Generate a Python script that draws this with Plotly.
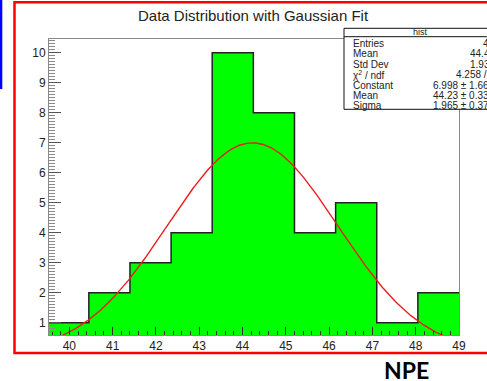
import numpy as np
import plotly.graph_objects as go

# Histogram: 10 bins of width 0.95 from 39.5 to 49.0
bin_edges = [39.5, 40.45, 41.4, 42.35, 43.3, 44.25, 45.2, 46.15, 47.1, 48.05, 49.0]
counts = [1, 2, 3, 4, 10, 8, 4, 5, 1, 2]

# Gaussian fit parameters
fit_constant = 6.998
fit_mean = 44.23
fit_sigma = 1.965

# Stats box rows
stat_labels = ["Entries", "Mean", "Std Dev", "χ<sup>2</sup> / ndf", "Constant", "Mean", "Sigma"]
stat_values = ["40", "44.42", "1.934", "4.258 / 7", "6.998 ± 1.664", "44.23 ± 0.333", "1.965 ± 0.370"]

x_range = [39.53, 49.0]
y_range = [0.59, 10.46]

# pixel geometry of the plotting area
FIG_W, FIG_H = 487, 381
L, R, T, B = 49, 459, 39, 335
PW, PH = R - L, B - T


def px(xp):
    return (xp - L) / PW


def py(yp):
    return (B - yp) / PH


fig = go.Figure()

# filled histogram drawn as a step curve (no seams between bins)
step_x = bin_edges
step_y = counts + [counts[-1]]
fig.add_trace(go.Scatter(
    x=step_x, y=step_y, mode="lines", line_shape="hv",
    fill="tozeroy", fillcolor="#00ff00",
    line=dict(color="#222222", width=1.5),
    hoverinfo="skip", showlegend=False,
))

# fitted Gaussian
gx = np.linspace(bin_edges[0], bin_edges[-1], 400)
gy = fit_constant * np.exp(-0.5 * ((gx - fit_mean) / fit_sigma) ** 2)
fig.add_trace(go.Scatter(
    x=gx, y=gy, mode="lines",
    line=dict(color="#ee1c1c", width=1.4),
    hoverinfo="skip", showlegend=False,
))

font_main = "Liberation Sans, Arial, sans-serif"

shapes = []
annotations = []

# red surrounding frame
shapes.append(dict(type="rect", xref="paper", yref="paper",
                   x0=px(14.5), x1=px(500), y0=py(353), y1=py(2.2),
                   line=dict(color="#ff0000", width=2.5), fillcolor="rgba(0,0,0,0)",
                   layer="above"))
# blue bar at the left edge
shapes.append(dict(type="rect", xref="paper", yref="paper",
                   x0=px(-2), x1=px(2.3), y0=py(89), y1=py(-2),
                   line=dict(width=0), fillcolor="#0000ff", layer="above"))

# stats box
box_x0, box_y0, box_y1 = 344, 28.3, 109.3
shapes.append(dict(type="rect", xref="paper", yref="paper",
                   x0=px(box_x0), x1=px(520), y0=py(box_y1), y1=py(box_y0),
                   line=dict(color="#111111", width=1), fillcolor="white", layer="above"))
shapes.append(dict(type="line", xref="paper", yref="paper",
                   x0=px(box_x0), x1=px(520), y0=py(36.7), y1=py(36.7),
                   line=dict(color="#111111", width=1), layer="above"))

annotations.append(dict(xref="paper", yref="paper", x=px(420), y=py(32.3),
                        text="hist", showarrow=False, xanchor="center", yanchor="middle",
                        font=dict(family=font_main, size=9, color="#222")))
row_y0, row_dy = 43.3, 10.45
for i, (lab, val) in enumerate(zip(stat_labels, stat_values)):
    yy = py(row_y0 + i * row_dy)
    annotations.append(dict(xref="paper", yref="paper", x=px(350.5), y=yy,
                            text=lab, showarrow=False, xanchor="left", yanchor="middle",
                            font=dict(family=font_main, size=10, color="#222")))
    annotations.append(dict(xref="paper", yref="paper", x=px(497), y=yy,
                            text=val, showarrow=False, xanchor="right", yanchor="middle",
                            font=dict(family=font_main, size=10, color="#222")))

# title
annotations.append(dict(xref="paper", yref="paper", x=px(253), y=py(15.5),
                        text="Data Distribution with Gaussian Fit", showarrow=False,
                        xanchor="center", yanchor="middle",
                        font=dict(family=font_main, size=15, color="#222")))
# axis caption
annotations.append(dict(xref="paper", yref="paper", x=px(406), y=py(370),
                        text="<b>NPE</b>", showarrow=False,
                        xanchor="center", yanchor="middle",
                        font=dict(family="Lato, Open Sans, sans-serif", size=23, color="#000")))

fig.update_layout(
    width=FIG_W, height=FIG_H,
    margin=dict(l=L, r=FIG_W - R, t=T, b=FIG_H - B, pad=0),
    paper_bgcolor="white", plot_bgcolor="white",
    shapes=shapes, annotations=annotations,
    showlegend=False,
)

fig.update_xaxes(
    range=x_range, showgrid=False, zeroline=False,
    showline=True, mirror=True, linecolor="#8a8a8a", linewidth=1,
    ticks="inside", ticklen=8, tickcolor="#333", tickwidth=1,
    tick0=40, dtick=1,
    minor=dict(ticks="inside", ticklen=4, dtick=0.2, tick0=40, tickcolor="#333", showgrid=False),
    tickfont=dict(family=font_main, size=12, color="#222"),
)
fig.update_yaxes(
    range=y_range, showgrid=False, zeroline=False,
    showline=True, mirror=True, linecolor="#8a8a8a", linewidth=1,
    ticks="inside", ticklen=12, tickcolor="#555", tickwidth=1,
    tick0=0, dtick=1,
    minor=dict(ticks="inside", ticklen=6, dtick=0.1, tick0=0, tickcolor="#8a8a8a", showgrid=False),
    tickfont=dict(family=font_main, size=12, color="#222"),
)

fig.write_html("out.html")
